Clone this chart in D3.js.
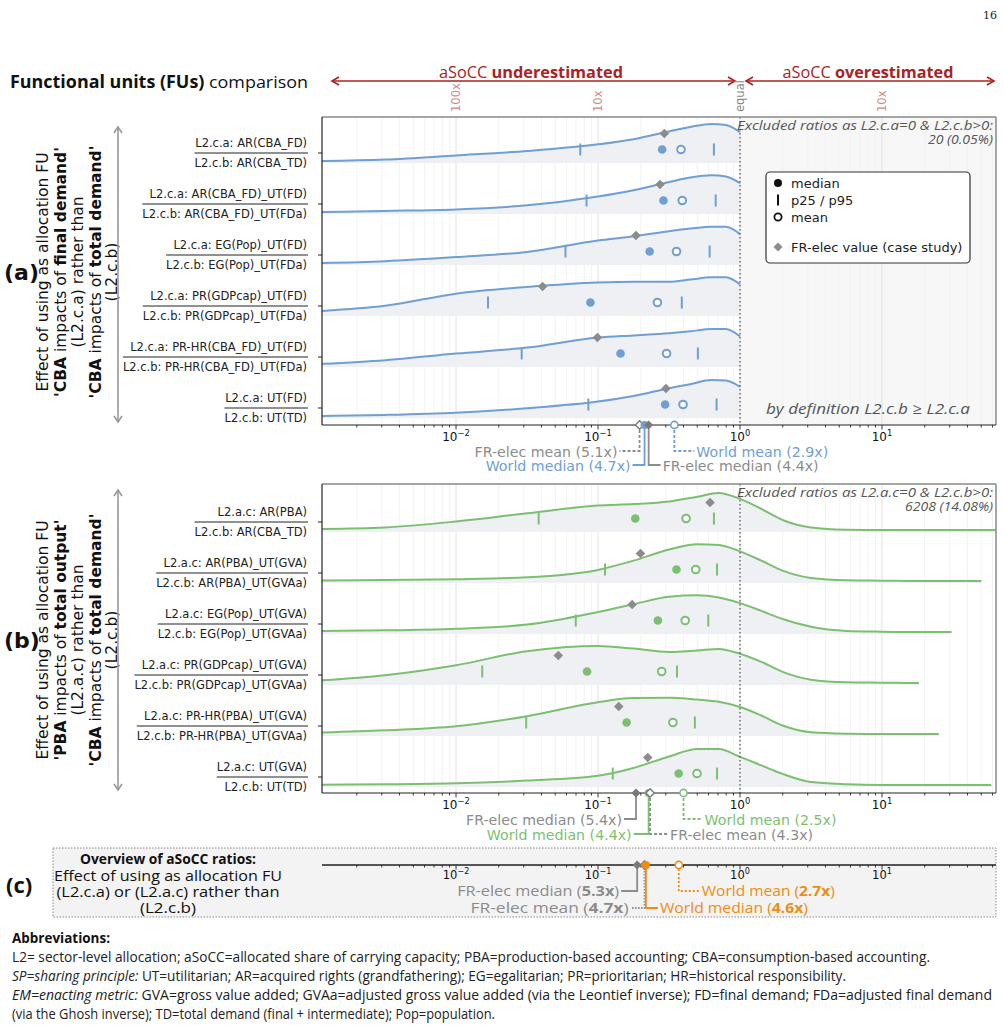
<!DOCTYPE html>
<html><head><meta charset="utf-8">
<script src="https://cdn.jsdelivr.net/npm/d3@7"></script>
<style>
body{margin:0;background:#fff;}
svg{display:block;font-family:"DejaVu Sans",sans-serif;}
</style></head><body>
<svg id="c" width="1004" height="1029"></svg>
<script>
// ---------------- DATA ----------------
const decadeTicks = [1e-2, 1e-1, 1, 10];
const decadeExp = ["\u22122", "\u22121", "0", "1"];
const topScaleVals = [0.01, 0.1, 1, 10];
const topScaleLabels = ["100x", "10x", "equal", "10x"];

const labelsA = [
  ["L2.c.a: AR(CBA_FD)", "L2.c.b: AR(CBA_TD)"],
  ["L2.c.a: AR(CBA_FD)_UT(FD)", "L2.c.b: AR(CBA_FD)_UT(FDa)"],
  ["L2.c.a: EG(Pop)_UT(FD)", "L2.c.b: EG(Pop)_UT(FDa)"],
  ["L2.c.a: PR(GDPcap)_UT(FD)", "L2.c.b: PR(GDPcap)_UT(FDa)"],
  ["L2.c.a: PR-HR(CBA_FD)_UT(FD)", "L2.c.b: PR-HR(CBA_FD)_UT(FDa)"],
  ["L2.c.a: UT(FD)", "L2.c.b: UT(TD)"]
];
const labelsB = [
  ["L2.a.c: AR(PBA)", "L2.c.b: AR(CBA_TD)"],
  ["L2.a.c: AR(PBA)_UT(GVA)", "L2.c.b: AR(PBA)_UT(GVAa)"],
  ["L2.a.c: EG(Pop)_UT(GVA)", "L2.c.b: EG(Pop)_UT(GVAa)"],
  ["L2.a.c: PR(GDPcap)_UT(GVA)", "L2.c.b: PR(GDPcap)_UT(GVAa)"],
  ["L2.a.c: PR-HR(PBA)_UT(GVA)", "L2.c.b: PR-HR(PBA)_UT(GVAa)"],
  ["L2.a.c: UT(GVA)", "L2.c.b: UT(TD)"]
];

// panel (a) statistics (ratio values)
const p25A  = [0.075, 0.083, 0.059, 0.0168, 0.029, 0.0855];
const medA  = [0.283, 0.289, 0.231, 0.0884, 0.144, 0.297];
const meanA = [0.384, 0.392, 0.357, 0.262, 0.304, 0.397];
const p95A  = [0.655, 0.674, 0.611, 0.389, 0.505, 0.684];
const frA   = [0.293, 0.273, 0.185, 0.0407, 0.099, 0.301];
// density grid (log10 of ratio) and relative densities
const gridA = [-2.95, -2.5, -2, -1.5, -1, -0.75, -0.5, -0.35, -0.2, -0.1, 0];
const densA = [
  [0.00, 0.04, 0.15, 0.27, 0.45, 0.59, 0.80, 0.92, 1.00, 0.97, 0.78],
  [0.00, 0.03, 0.07, 0.18, 0.42, 0.59, 0.81, 0.93, 0.99, 0.96, 0.78],
  [0.00, 0.05, 0.16, 0.30, 0.61, 0.72, 0.86, 0.93, 0.98, 0.98, 0.78],
  [0.08, 0.22, 0.55, 0.73, 0.85, 0.87, 0.87, 0.93, 0.99, 0.99, 0.80],
  [0.03, 0.13, 0.31, 0.47, 0.74, 0.80, 0.86, 0.91, 0.97, 0.97, 0.77],
  [0.00, 0.03, 0.09, 0.21, 0.39, 0.54, 0.75, 0.86, 0.97, 0.96, 0.79]
];
const endA = [0, 0, 0, 0, 0, 0];

// panel (b) statistics
const p25B  = [0.0382, 0.112, 0.0697, 0.0153, 0.0312, 0.127];
const medB  = [0.183, 0.357, 0.264, 0.0837, 0.159, 0.370];
const meanB = [0.417, 0.488, 0.411, 0.281, 0.337, 0.498];
const p95B  = [0.655, 0.689, 0.598, 0.360, 0.481, 0.689];
const frB   = [0.615, 0.199, 0.174, 0.0525, 0.140, 0.224];
const gridB = [-2.95, -2.5, -2, -1.5, -1, -0.75, -0.5, -0.3, -0.15, 0, 0.15, 0.3, 0.5, 0.75, 1, 1.25, 1.5, 1.8];
const densB = [
  [0.03, 0.07, 0.23, 0.45, 0.66, 0.70, 0.77, 0.90, 1.00, 0.84, 0.57, 0.27, 0.07, 0.01, 0.00, 0, 0, 0],
  [0.01, 0.03, 0.05, 0.10, 0.30, 0.55, 0.85, 0.99, 0.97, 0.80, 0.55, 0.28, 0.08, 0.02, 0.01, 0, 0, 0],
  [0.03, 0.045, 0.09, 0.20, 0.54, 0.75, 0.95, 0.99, 0.93, 0.78, 0.57, 0.35, 0.14, 0.03, 0.01, 0, 0, 0],
  [0.07, 0.21, 0.48, 0.86, 1.00, 0.93, 0.84, 0.88, 0.92, 0.79, 0.57, 0.30, 0.09, 0.02, 0.01, 0, 0, 0],
  [0.04, 0.10, 0.21, 0.48, 0.86, 0.97, 0.98, 0.93, 0.87, 0.73, 0.50, 0.23, 0.05, 0.01, 0.00, 0, 0, 0],
  [0.01, 0.02, 0.045, 0.12, 0.25, 0.46, 0.77, 0.97, 0.97, 0.76, 0.53, 0.30, 0.08, 0.02, 0.00, 0, 0, 0]
];
const endB = [1.80, 1.70, 1.49, 1.26, 1.40, 1.77];

// summary ratios (x-times underestimation)
const summaryA = {frMean: 5.1, worldMedian: 4.7, frMedian: 4.4, worldMean: 2.9};
const summaryB = {frMedian: 5.4, worldMedian: 4.4, frMean: 4.3, worldMean: 2.5};
const summaryC = {frMedian: 5.3, worldMean: 2.7, frMean: 4.7, worldMedian: 4.6};

// ---------------- SETUP ----------------
const svg = d3.select("#c");
const X0 = 322, X1 = 996;
const x = d3.scaleLog().domain([Math.pow(10, -2.944), Math.pow(10, 1.803)]).range([X0, X1]);
const hS = d3.scaleLinear().domain([0, 1]).range([0, 37]);
const BLUE = "#6f9fd3", GREEN = "#7dbf72", ORANGE = "#f08c10", GREY = "#8c8c8c", FILL = "#eef0f3", DARKRED = "#a82323";
const COND = "'Liberation Sans Narrow','Open Sans',sans-serif";

const minorVals = [];
for (let e = -3; e <= 1; e++) for (let k = 1; k <= 9; k++) {
  const v = k * Math.pow(10, e);
  if (v >= x.domain()[0] && v <= x.domain()[1]) minorVals.push(v);
}

function diamondPath(s) { return `M0,${-s}L${s},0L0,${s}L${-s},0Z`; }

function condText(g, xx, yy, parts, size, width, anchor, color) {
  const t = g.append("text").attr("x", xx).attr("y", yy).attr("font-size", size)
    .attr("font-family", COND).attr("fill", color || "#111").attr("text-anchor", anchor || "start");
  parts.forEach(p => {
    const ts = t.append("tspan").text(p[0]);
    if (p[1] && p[1].includes("b")) ts.attr("font-weight", "bold");
    if (p[1] && p[1].includes("i")) ts.attr("font-style", "italic");
  });
  if (width) t.attr("textLength", width).attr("lengthAdjust", "spacingAndGlyphs");
  return t;
}

// page number
svg.append("text").attr("x", 997).attr("y", 19).attr("text-anchor", "end")
  .attr("font-family", "'DejaVu Serif',serif").attr("font-size", 11).attr("fill", "#222").text("16");

// ---------------- HEADER ----------------
condText(svg, 10, 88, [["Functional units (FUs)", "b"], [" comparison", ""]], 17, 298);
function hArrow(x1, x2, y) {
  const g = svg.append("g").attr("stroke", DARKRED).attr("stroke-width", 1.6).attr("fill", "none");
  g.append("line").attr("x1", x1).attr("x2", x2).attr("y1", y).attr("y2", y);
  g.append("path").attr("d", `M${x1 + 7},${y - 4}L${x1},${y}L${x1 + 7},${y + 4}`);
  g.append("path").attr("d", `M${x2 - 7},${y - 4}L${x2},${y}L${x2 - 7},${y + 4}`);
}
hArrow(X0 + 10, x(1) - 5, 81);
hArrow(x(1) + 6, X1 - 2, 81);
condText(svg, (X0 + x(1)) / 2, 78, [["aSoCC ", ""], ["underestimated", "b"]], 16.5, 184, "middle", DARKRED);
condText(svg, (x(1) + X1) / 2, 78, [["aSoCC ", ""], ["overestimated", "b"]], 16.5, 171, "middle", DARKRED);
topScaleVals.forEach((v, i) => {
  svg.append("text").attr("transform", `translate(${x(v)},112) rotate(-90)`)
    .attr("text-anchor", "start").attr("dominant-baseline", "central")
    .attr("font-size", 11.5).attr("fill", topScaleLabels[i] === "equal" ? "#888" : "#d4898b")
    .text(topScaleLabels[i]);
});

// ---------------- LEFT BLOCKS ----------------
function leftBlock(cy, tag, lines, arrowTop, arrowBot) {
  svg.append("text").attr("x", 4).attr("y", cy + 8).attr("font-size", 22).attr("font-weight", "bold")
    .attr("fill", "#111").text(tag);
  const xs = [43, 60.5, 78, 95.5, 112];
  lines.forEach((ln, j) => {
    const t = svg.append("text").attr("transform", `translate(${xs[j]},${cy}) rotate(-90)`)
      .attr("text-anchor", "middle").attr("dominant-baseline", "central")
      .attr("font-size", 15.5).attr("fill", "#111");
    ln.forEach(p => {
      const ts = t.append("tspan").text(p[0]);
      if (p[1]) ts.attr("font-weight", "bold");
    });
  });
  const g = svg.append("g").attr("stroke", "#999").attr("stroke-width", 1.6).attr("fill", "none");
  g.append("line").attr("x1", 118).attr("x2", 118).attr("y1", arrowTop).attr("y2", arrowBot);
  g.append("path").attr("d", `M${114},${arrowTop + 6}L118,${arrowTop}L122,${arrowTop + 6}`);
  g.append("path").attr("d", `M${114},${arrowBot - 6}L118,${arrowBot}L122,${arrowBot - 6}`);
}
leftBlock(272, "(a)", [
  [["Effect of using as allocation FU", 0]],
  [["'CBA", 1], [" impacts of ", 0], ["final demand'", 1]],
  [["(L2.c.a) rather than", 0]],
  [["'CBA", 1], [" impacts of ", 0], ["total demand'", 1]],
  [["(L2.c.b)", 0]]
], 127, 422);
leftBlock(640, "(b)", [
  [["Effect of using as allocation FU", 0]],
  [["'PBA", 1], [" impacts of ", 0], ["total output'", 1]],
  [["(L2.a.c) rather than", 0]],
  [["'CBA", 1], [" impacts of ", 0], ["total demand'", 1]],
  [["(L2.c.b)", 0]]
], 490, 790);

// ---------------- AXIS HELPER ----------------
function xAxis(y, opts) {
  const g = svg.append("g");
  g.append("line").attr("x1", X0).attr("x2", X1).attr("y1", y).attr("y2", y)
    .attr("stroke", opts.lineColor || "#222").attr("stroke-width", opts.lineWidth || 1.2);
  g.selectAll(".mn").data(minorVals).join("line")
    .attr("x1", d => x(d)).attr("x2", d => x(d)).attr("y1", y).attr("y2", d => y + (decadeTicks.includes(d) ? 4.5 : 2.5))
    .attr("stroke", "#222").attr("stroke-width", 0.9);
  decadeTicks.forEach((v, i) => {
    const t = g.append("text").attr("x", x(v)).attr("y", y + (opts.labelDy || 17)).attr("text-anchor", "middle")
      .attr("font-size", opts.fs || 12).attr("fill", "#111");
    t.append("tspan").text("10");
    t.append("tspan").attr("font-size", (opts.fs || 12) * 0.7).attr("dy", -5).text(decadeExp[i]);
  });
}

// ---------------- PANELS ----------------
function rowPoints(grid, dens, endLog) {
  const pts = [];
  for (let j = 0; j < grid.length; j++) {
    if (grid[j] <= endLog + 1e-9) pts.push([grid[j], dens[j]]);
    else {
      const a = grid[j - 1], b = grid[j];
      const t = (endLog - a) / (b - a);
      if (pts[pts.length - 1][0] < endLog) pts.push([endLog, dens[j - 1] + t * (dens[j] - dens[j - 1])]);
      break;
    }
  }
  return pts;
}

function panel(cfg) {
  const {top, bottom, t0, color, labels, grid, dens, ends, p25, med, mean, p95, fr, id} = cfg;
  const rowY = d3.scaleLinear().domain([0, 5]).range([t0, t0 + 255]);
  const clipId = "clip" + id;
  svg.append("clipPath").attr("id", clipId).append("rect")
    .attr("x", X0).attr("y", top).attr("width", X1 - X0).attr("height", bottom - top);
  const g = svg.append("g").attr("clip-path", `url(#${clipId})`);
  if (cfg.shadeRight) g.append("rect").attr("x", x(1)).attr("y", top).attr("width", X1 - x(1)).attr("height", bottom - top).attr("fill", "#f7f7f7");
  g.selectAll(".gm").data(minorVals.filter(v => !decadeTicks.includes(v))).join("line")
    .attr("x1", d => x(d)).attr("x2", d => x(d)).attr("y1", top).attr("y2", bottom)
    .attr("stroke", "#f0f0f0").attr("stroke-width", 0.8);
  g.selectAll(".gM").data(decadeTicks).join("line")
    .attr("x1", d => x(d)).attr("x2", d => x(d)).attr("y1", top).attr("y2", bottom)
    .attr("stroke", "#e2e2e2").attr("stroke-width", 1);

  labels.forEach((lab, i) => {
    const base = rowY(i) + 8;
    const pts = rowPoints(grid, dens[i], ends[i]);
    const area = d3.area().x(d => x(Math.pow(10, d[0]))).y0(base + 2).y1(d => base - hS(d[1])).curve(d3.curveMonotoneX);
    const line = d3.line().x(d => x(Math.pow(10, d[0]))).y(d => base - hS(d[1])).curve(d3.curveMonotoneX);
    g.append("path").attr("d", area(pts)).attr("fill", FILL);
    g.append("path").attr("d", line(pts)).attr("fill", "none").attr("stroke", color).attr("stroke-width", 2);
  });
  g.append("line").attr("x1", x(1)).attr("x2", x(1)).attr("y1", top).attr("y2", bottom)
    .attr("stroke", "#444").attr("stroke-width", 1.1).attr("stroke-dasharray", "1.5,2.5");

  labels.forEach((lab, i) => {
    const base = rowY(i) + 8;
    const yp = base - 11.5;
    [p25[i], p95[i]].forEach(v => g.append("line").attr("x1", x(v)).attr("x2", x(v))
      .attr("y1", yp - 6).attr("y2", yp + 6).attr("stroke", color).attr("stroke-width", 2));
    g.append("circle").attr("cx", x(med[i])).attr("cy", yp).attr("r", 4.3).attr("fill", color);
    g.append("circle").attr("cx", x(mean[i])).attr("cy", yp).attr("r", 3.8).attr("fill", "#fff")
      .attr("stroke", color).attr("stroke-width", 2);
    g.append("path").attr("transform", `translate(${x(fr[i])},${base - 27.5})`).attr("d", diamondPath(4.8)).attr("fill", GREY);

    const ty = rowY(i);
    const t1 = svg.append("text").attr("x", 307).attr("y", ty - 6).attr("text-anchor", "end")
      .attr("font-size", 11.5).attr("fill", "#222").text(lab[0]);
    const t2 = svg.append("text").attr("x", 307).attr("y", ty + 14).attr("text-anchor", "end")
      .attr("font-size", 11.5).attr("fill", "#222").text(lab[1]);
    const w = Math.max(t1.node().getComputedTextLength(), t2.node().getComputedTextLength());
    svg.append("line").attr("x1", 308 - w - 1).attr("x2", 308).attr("y1", ty).attr("y2", ty)
      .attr("stroke", "#222").attr("stroke-width", 1);
    svg.append("line").attr("x1", X0 - 4).attr("x2", X0).attr("y1", ty).attr("y2", ty)
      .attr("stroke", "#222").attr("stroke-width", 1);
  });

  svg.append("line").attr("x1", X0).attr("x2", X1).attr("y1", top).attr("y2", top).attr("stroke", "#888").attr("stroke-width", 1.5);
  svg.append("line").attr("x1", X1).attr("x2", X1).attr("y1", top).attr("y2", bottom).attr("stroke", "#888").attr("stroke-width", 1.5);
  svg.append("line").attr("x1", X0).attr("x2", X0).attr("y1", top).attr("y2", bottom).attr("stroke", "#222").attr("stroke-width", 1.2);
  xAxis(bottom, {labelDy: 16});

  condText(svg, 993, top + 13, [[cfg.excl[0], "i"]], 12.5, 256, "end", "#555");
  condText(svg, 993, top + 27, [[cfg.excl[1], "i"]], 12.5, cfg.exclW, "end", "#555");
}

panel({id: "A", top: 117, bottom: 425, t0: 153, color: BLUE, labels: labelsA, grid: gridA, dens: densA, ends: endA,
  p25: p25A, med: medA, mean: meanA, p95: p95A, fr: frA, shadeRight: true,
  excl: ["Excluded ratios as L2.c.a=0 & L2.c.b>0:", "20 (0.05%)"], exclW: 65});
panel({id: "B", top: 484, bottom: 793, t0: 522, color: GREEN, labels: labelsB, grid: gridB, dens: densB, ends: endB,
  p25: p25B, med: medB, mean: meanB, p95: p95B, fr: frB, shadeRight: false,
  excl: ["Excluded ratios as L2.a.c=0 & L2.c.b>0:", "6208 (14.08%)"], exclW: 88});

condText(svg, 868, 414, [["by definition L2.c.b \u2265 L2.c.a", "i"]], 15, 204, "middle", "#555");

// legend
const lg = svg.append("g");
lg.append("rect").attr("x", 766).attr("y", 172).attr("width", 204).attr("height", 91).attr("rx", 4)
  .attr("fill", "#fff").attr("stroke", "#333").attr("stroke-width", 1.2);
lg.append("circle").attr("cx", 778).attr("cy", 183).attr("r", 4).attr("fill", "#111");
lg.append("line").attr("x1", 778).attr("x2", 778).attr("y1", 194.5).attr("y2", 205.5).attr("stroke", "#111").attr("stroke-width", 2);
lg.append("circle").attr("cx", 778).attr("cy", 217).attr("r", 3.6).attr("fill", "#fff").attr("stroke", "#111").attr("stroke-width", 1.8);
lg.append("path").attr("transform", "translate(778,247)").attr("d", diamondPath(4.5)).attr("fill", GREY);
[["median", 187.5], ["p25 / p95", 204.5], ["mean", 221.5], ["FR-elec value (case study)", 251.5]].forEach(d =>
  lg.append("text").attr("x", 791).attr("y", d[1]).attr("font-size", 13).attr("fill", "#222").text(d[0]));

// ---------------- SUMMARY ANNOTATIONS ----------------
function marker(g, v, y, kind, col) {
  if (kind === "frMedian") g.append("path").attr("transform", `translate(${x(v)},${y})`).attr("d", diamondPath(4.6)).attr("fill", "#7a7a7a");
  else if (kind === "frMean") g.append("path").attr("transform", `translate(${x(v)},${y})`).attr("d", diamondPath(4.2)).attr("fill", "#fff").attr("stroke", "#7a7a7a").attr("stroke-width", 1.4);
  else if (kind === "worldMedian") g.append("circle").attr("cx", x(v)).attr("cy", y).attr("r", 4).attr("fill", col);
  else g.append("circle").attr("cx", x(v)).attr("cy", y).attr("r", 3.6).attr("fill", "#fff").attr("stroke", col).attr("stroke-width", 1.6);
}
function annot(axisY, summary, layout, col, cond) {
  const g = svg.append("g");
  layout.forEach(L => {
    const ratio = summary[L.key];
    const mx = x(1 / ratio);
    const isWorld = L.key.startsWith("world");
    const c = isWorld ? col : "#8c8c8c";
    const ly = axisY + L.drop;
    const ex = L.side === "left" ? mx - L.leg : mx + L.leg;
    g.append("path").attr("d", `M${mx},${axisY}L${mx},${ly}L${ex},${ly}`).attr("fill", "none")
      .attr("stroke", c).attr("stroke-width", 1.8).attr("stroke-dasharray", L.dash || null);
    const name = (isWorld ? "World " : "FR-elec ") + (L.key.endsWith("Median") ? "median" : "mean");
    const tx = L.side === "left" ? ex - 2 : ex + 2;
    const anchor = L.side === "left" ? "end" : "start";
    if (cond) {
      condText(g, tx, ly + 5, [[name + " (", ""], [ratio.toFixed(1) + "x", "b"], [")", ""]], 14.5, L.w, anchor, c);
    } else {
      g.append("text").attr("x", tx).attr("y", ly + 1).attr("dominant-baseline", "central").attr("text-anchor", anchor)
        .attr("font-size", 14.2).attr("fill", c).text(`${name} (${ratio.toFixed(1)}x)`);
    }
  });
  layout.forEach(L => marker(g, 1 / summary[L.key], axisY, L.key, col));
}
annot(425, summaryA, [
  {key: "frMean", side: "left", drop: 26, leg: 20, dash: "3,2"},
  {key: "worldMean", side: "right", drop: 26, leg: 20, dash: "3,2"},
  {key: "worldMedian", side: "left", drop: 40, leg: 12},
  {key: "frMedian", side: "right", drop: 40, leg: 12}
], BLUE, false);
annot(793, summaryB, [
  {key: "frMedian", side: "left", drop: 26, leg: 12},
  {key: "worldMean", side: "right", drop: 26, leg: 19, dash: "3,2"},
  {key: "worldMedian", side: "left", drop: 41, leg: 15},
  {key: "frMean", side: "right", drop: 41, leg: 18, dash: "3,2"}
], GREEN, false);

// ---------------- PANEL (c) ----------------
svg.append("rect").attr("x", 53).attr("y", 848).attr("width", 943).attr("height", 69)
  .attr("fill", "#f3f3f3").attr("stroke", "#888").attr("stroke-width", 1).attr("stroke-dasharray", "1.5,1.5");
svg.append("text").attr("x", 6).attr("y", 893).attr("font-size", 22).attr("font-weight", "bold")
  .attr("font-family", COND).attr("fill", "#111").text("(c)");
condText(svg, 168, 864, [["Overview of aSoCC ratios:", "b"]], 14, 176, "middle");
condText(svg, 168, 881, [["Effect of using as allocation FU", ""]], 14, 228, "middle");
condText(svg, 168, 897, [["(L2.c.a) or (L2.a.c) rather than", ""]], 14, 223, "middle");
condText(svg, 168, 913, [["(L2.c.b)", ""]], 14, 56, "middle");
xAxis(865, {lineColor: "#555", lineWidth: 2.2, labelDy: 14, fs: 11.5});
annot(865, summaryC, [
  {key: "frMedian", side: "left", drop: 26, leg: 16, w: 162},
  {key: "worldMean", side: "right", drop: 26, leg: 21, dash: "2,2", w: 133},
  {key: "frMean", side: "left", drop: 43, leg: 14, dash: "1.5,1.5", w: 158},
  {key: "worldMedian", side: "right", drop: 43, leg: 12, w: 148}
], ORANGE, true);

// ---------------- ABBREVIATIONS ----------------
condText(svg, 12, 943, [["Abbreviations:", "b"]], 14, 98);
condText(svg, 12, 962, [["L2= sector-level allocation; aSoCC=allocated share of carrying capacity; PBA=production-based accounting; CBA=consumption-based accounting.", ""]], 14, 918, "start", "#222");
condText(svg, 12, 981, [["SP=sharing principle:", "i"], [" UT=utilitarian; AR=acquired rights (grandfathering); EG=egalitarian; PR=prioritarian; HR=historical responsibility.", ""]], 14, 834, "start", "#222");
condText(svg, 12, 1000, [["EM=enacting metric:", "i"], [" GVA=gross value added; GVAa=adjusted gross value added (via the Leontief inverse); FD=final demand; FDa=adjusted final demand", ""]], 14, 980, "start", "#222");
condText(svg, 12, 1019, [["(via the Ghosh inverse); TD=total demand (final + intermediate); Pop=population.", ""]], 14, 483, "start", "#222");
</script>
</body></html>
